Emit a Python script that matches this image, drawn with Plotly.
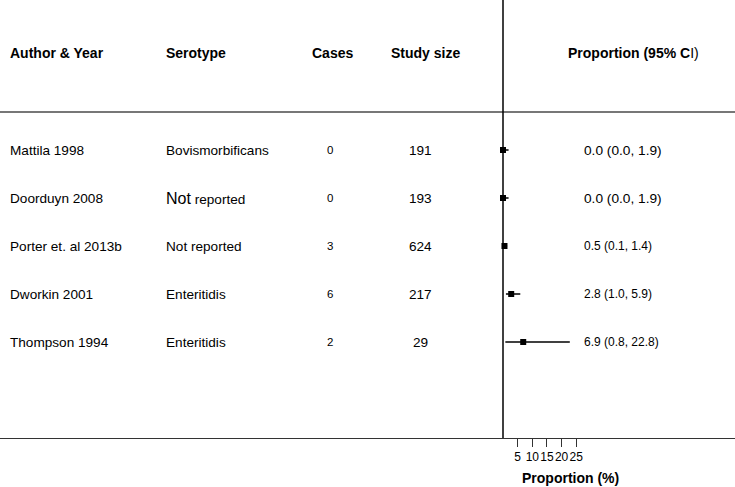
import plotly.graph_objects as go

authors = ["Mattila 1998", "Doorduyn 2008", "Porter et. al 2013b", "Dworkin 2001", "Thompson 1994"]
serotypes = ["Bovismorbificans", "Not reported", "Not reported", "Enteritidis", "Enteritidis"]
cases = [0, 0, 3, 6, 2]
study_size = [191, 193, 624, 217, 29]
proportion = [0.0, 0.0, 0.5, 2.8, 6.9]
ci_low = [0.0, 0.0, 0.1, 1.0, 0.8]
ci_high = [1.9, 1.9, 1.4, 5.9, 22.8]
tick_vals = [5, 10, 15, 20, 25]
headers = ["Author & Year", "Serotype", "Cases", "Study size", "Proportion (95% C</b>I)"]

rows = list(range(1, len(authors) + 1))
FONT = "Liberation Sans, Arial, sans-serif"

fig = go.Figure()
fig.add_trace(go.Scatter(
    x=proportion, y=rows, mode="markers",
    marker=dict(symbol="square", size=6, color="black"),
    error_x=dict(type="data", symmetric=False,
                 array=[h - p for h, p in zip(ci_high, proportion)],
                 arrayminus=[p - l for p, l in zip(proportion, ci_low)],
                 color="black", thickness=1.5, width=0),
    showlegend=False, hoverinfo="skip",
))

px_per_unit = 2.93
zero_px = 503
W = 735
x0 = -zero_px / px_per_unit
x1 = (W - zero_px) / px_per_unit

ann = []
hdr_y = 53
plot_h = 438

def py(pix):
    return 1 - pix / plot_h

# headers
hx = [(8, "left"), (164, "left"), (332, "center"), (425, "center"), (633, "center")]
for (xp, anc), h in zip(hx, headers):
    ann.append(dict(x=xp / W, y=py(hdr_y), xref="paper", yref="paper",
                    text="<b>" + h + ("</b>" if "</b>" not in h else ""),
                    showarrow=False, xanchor=anc, yanchor="middle",
                    font=dict(family=FONT, size=14, color="black")))

for i, r in enumerate(rows):
    ann.append(dict(x=8 / W, y=r, xref="paper", yref="y", text=authors[i], showarrow=False,
                    xanchor="left", yanchor="middle", font=dict(family=FONT, size=13.6, color="black")))
    s = serotypes[i]
    if i == 1:
        s = '<span style="font-size:16px">Not</span> reported'
    ann.append(dict(x=164 / W, y=r, xref="paper", yref="y", text=s, showarrow=False,
                    xanchor="left", yanchor="middle", font=dict(family=FONT, size=13.6, color="black")))
    ann.append(dict(x=330 / W, y=r, xref="paper", yref="y", text=str(cases[i]), showarrow=False,
                    xanchor="center", yanchor="middle", font=dict(family=FONT, size=11.5, color="black")))
    ann.append(dict(x=420 / W, y=r, xref="paper", yref="y", text=str(study_size[i]), showarrow=False,
                    xanchor="center", yanchor="middle", font=dict(family=FONT, size=13.6, color="black")))
    ann.append(dict(x=582 / W, y=r, xref="paper", yref="y",
                    text=f"{proportion[i]:.1f} ({ci_low[i]:.1f}, {ci_high[i]:.1f})", showarrow=False,
                    xanchor="left", yanchor="middle",
                    font=dict(family=FONT, size=13.7 if i < 2 else 12, color="black")))

ann.append(dict(x=570 / W, y=-40 / plot_h, xref="paper", yref="paper", text="<b>Proportion (%)</b>",
                showarrow=False, xanchor="center", yanchor="middle",
                font=dict(family=FONT, size=14, color="black")))

shapes = [
    dict(type="line", xref="paper", yref="paper", x0=0, x1=1, y0=py(112), y1=py(112),
         line=dict(color="#777777", width=2)),
    dict(type="line", xref="x", yref="paper", x0=0, x1=0, y0=0, y1=1,
         line=dict(color="black", width=1.5)),
]

fig.update_layout(
    width=735, height=487,
    margin=dict(l=0, r=0, t=0, b=49),
    plot_bgcolor="white", paper_bgcolor="white",
    annotations=ann, shapes=shapes,
    xaxis=dict(range=[x0, x1], tickvals=tick_vals, ticktext=[str(t) for t in tick_vals],
               tickangle=0,
               showgrid=False, zeroline=False, showline=True, linecolor="#333333", linewidth=1,
               ticks="outside", ticklen=8, tickcolor="#333333", tickwidth=1,
               tickfont=dict(family=FONT, size=12, color="black"), fixedrange=True),
    yaxis=dict(range=[7, -2.125], showgrid=False, zeroline=False, showticklabels=False,
               showline=False, fixedrange=True),
)

fig.write_html("out.html", config={"displayModeBar": False},
               post_script="document.body.style.margin='0';document.body.style.padding='0';")
